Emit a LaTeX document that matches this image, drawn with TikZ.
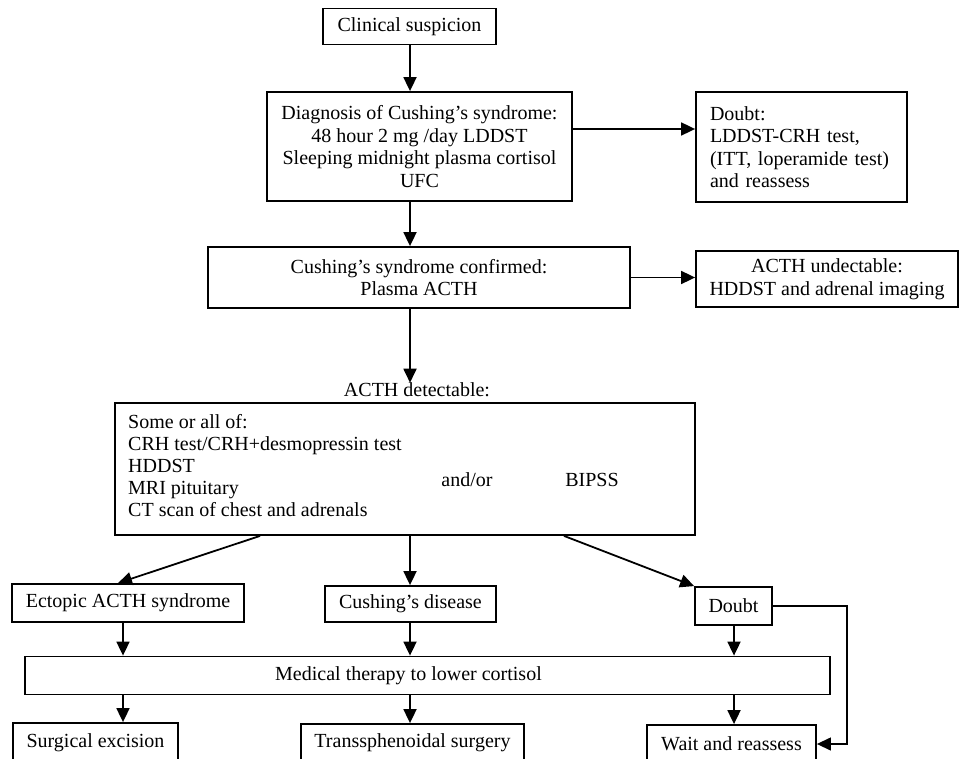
\documentclass[tikz,border=0pt]{standalone}
\usepackage{fontspec}
\setmainfont{Liberation Serif}
\usetikzlibrary{arrows.meta}
\newcommand\myfs{\fontsize{20}{22.5}\selectfont}
\newcommand\mylistfs{\fontsize{20}{22}\selectfont}
\tikzset{
  box/.style={draw, line width=1.8pt, inner sep=0pt, align=center, font=\myfs},
  lbl/.style={inner sep=0pt, font=\myfs},
  arr/.style={line width=1.8pt, -{Triangle[length=14pt,width=13pt]}},
  thinarr/.style={line width=1.3pt, -{Triangle[length=14pt,width=13pt]}}
}
\begin{document}
\begin{tikzpicture}[x=1pt,y=-1pt]
\useasboundingbox (0,0) rectangle (963,759);
\clip (0,0) rectangle (963,759);
\fill[white] (0,0) rectangle (963,759);

% helper coordinates
\coordinate (xC) at (410,0);
\coordinate (xL) at (260,0);
\coordinate (xR) at (564,0);
\coordinate (xE) at (118,0);
\coordinate (xA) at (123,0);
\coordinate (xD) at (734,0);
\coordinate (xRt) at (847,0);
\coordinate (yD1) at (0,129);

% top
\node[box, minimum width=173pt, minimum height=36pt] (clin) at (409.5,26.5) {Clinical suspicion};
\node[box, minimum width=305pt, minimum height=109pt] (diag) at (419.5,146.5)
  {Diagnosis of Cushing’s syndrome:\\48 hour 2 mg /day LDDST\\Sleeping midnight plasma cortisol\\UFC};
\node[box, align=left, text width=183pt, inner xsep=14pt, minimum height=110pt] (doubt1) at (801.5,147)
  {Doubt:\\LDDST-CRH test,\\(ITT, loperamide test)\\and reassess};
\node[box, minimum width=422pt, minimum height=61pt] (conf) at (419,277.5)
  {Cushing’s syndrome confirmed:\\Plasma ACTH};
\node[box, minimum width=262pt, minimum height=56pt] (undet) at (827,279)
  {ACTH undectable:\\HDDST and adrenal imaging};

% middle
\node[lbl] (acthdet) at (417,390) {ACTH detectable:};
\node[box, minimum width=580pt, minimum height=132pt] (big) at (405,469) {};
\node[lbl, anchor=west, align=left, font=\mylistfs] (list) at (128,466)
  {Some or all of:\\CRH test/CRH+desmopressin test\\HDDST\\MRI pituitary\\CT scan of chest and adrenals};
\node[lbl] (andor) at (467,480) {and/or};
\node[lbl] (bipss) at (592,480) {BIPSS};

% outcomes
\node[box, minimum width=232pt, minimum height=38pt] (ectopic) at (128,603) {Ectopic ACTH syndrome};
\node[box, minimum width=171pt, minimum height=36pt] (cd) at (410.5,604) {Cushing’s disease};
\node[box, minimum width=77pt, minimum height=38pt] (doubt2) at (733.5,606) {Doubt};
\node[box, minimum width=805pt, minimum height=38pt] (med) at (427.5,675.5)
  {Medical therapy to lower cortisol\hspace*{38pt}};
\node[box, minimum width=165pt, minimum height=39pt] (surg) at (95.5,742.5) {Surgical excision};
\node[box, minimum width=223pt, minimum height=38pt] (trans) at (412.5,743) {Transsphenoidal surgery};
\node[box, minimum width=169pt, minimum height=38pt] (wait) at (731.5,744) {Wait and reassess};

% connectors
\draw[arr] (clin.south -| xC) -- (diag.north -| xC);
\draw[arr] (diag.east |- yD1) -- (doubt1.west |- yD1);
\draw[arr] (diag.south -| xC) -- (conf.north -| xC);
\draw[arr] (conf.east) -- (undet.west |- conf.east);
\draw[arr] (conf.south -| xC) -- (acthdet.north -| xC);
\draw[arr] (big.south -| xL) -- (ectopic.north -| xE);
\draw[arr] (big.south -| xC) -- (cd.north -| xC);
\draw[arr] (big.south -| xR) -- (doubt2.north west);
\draw[arr] (ectopic.south -| xA) -- (med.north -| xA);
\draw[arr] (cd.south -| xC) -- (med.north -| xC);
\draw[arr] (doubt2.south -| xD) -- (med.north -| xD);
\draw[arr] (med.south -| xA) -- (surg.north -| xA);
\draw[arr] (med.south -| xC) -- (trans.north -| xC);
\draw[arr] (med.south -| xD) -- (wait.north -| xD);
\draw[thinarr] (doubt2.east) -- (doubt2.east -| xRt) -- (wait.east -| xRt) -- (wait.east);
\end{tikzpicture}
\end{document}
